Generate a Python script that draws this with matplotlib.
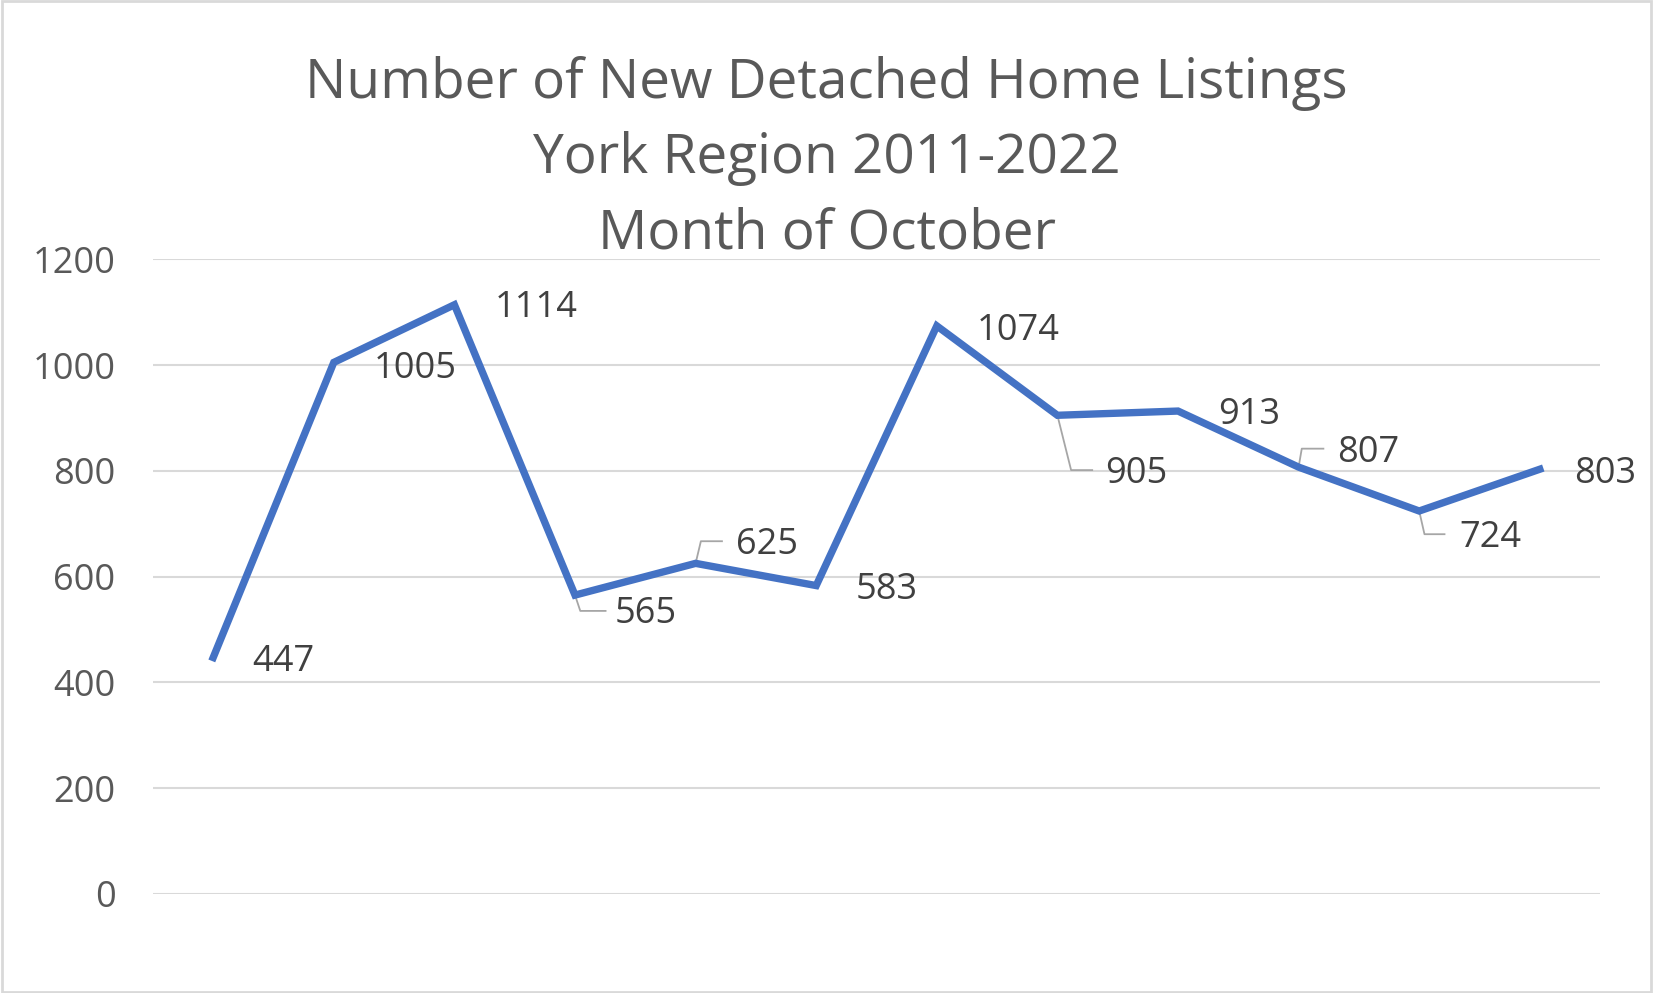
import matplotlib.pyplot as plt
import matplotlib.transforms as mtransforms
from matplotlib.patches import Rectangle

plt.rcParams["font.family"] = ["Open Sans", "DejaVu Sans"]

# October new detached listings, York Region
years = ["2011", "2012", "2013", "2014", "2015", "2016",
         "2017", "2018", "2019", "2020", "2021", "2022"]
listings = [447, 1005, 1114, 565, 625, 583, 1074, 905, 913, 807, 724, 803]

title = "Number of New Detached Home Listings\nYork Region 2011-2022\nMonth of October"
yticks = [0, 200, 400, 600, 800, 1000, 1200]

# label offsets (pixels at reference scale, y up) for left edge / vertical centre
label_dx = [37, 38, 38, 38, 38, 37, 38, 45, 38, 37, 38, 33]
label_dy = [-4, -6, -3, -18, 17, -4, -5, -56, -4, 13, -26, -5]
# leader lines (Excel style): point -> corner -> end
leaders = {
    3: [(0, 0), (5, -15), (29, -15)],
    4: [(0, 0), (5, 21), (25, 21)],
    7: [(0, 0), (13, -52), (33, -52)],
    9: [(0, 0), (3, 17.5), (23.5, 17.5)],
    10: [(0, 0), (5, -22), (24, -22)],
}

W, H = 1653, 993
sc = W / 1568.0
fig = plt.figure(figsize=(W / 100, H / 100), dpi=100)
ax = fig.add_axes([0.0925, 0.0998, 0.968 - 0.0925, 0.7389 - 0.0998])

x = list(range(len(years)))
ax.plot(x, listings, color="#4472C4", lw=5.3, solid_joinstyle="miter", zorder=3)

ax.set_xlim(-0.5, len(years) - 0.5)
ax.set_ylim(0, 1200)
ax.set_yticks(yticks)
ax.set_yticklabels([str(v) for v in yticks], fontsize=26, color="#595959")
ax.tick_params(axis="y", length=0, pad=27)
ax.set_xticks([])
ax.grid(axis="y", color="#d9d9d9", lw=1.5)
ax.set_axisbelow(True)
for s in ax.spines.values():
    s.set_visible(False)

for i, v in enumerate(listings):
    ax.annotate(str(v), (i, v), xytext=(label_dx[i] * sc, label_dy[i] * sc),
                textcoords="offset pixels", ha="left", va="center",
                fontsize=26, color="#404040", zorder=4)
    if i in leaders:
        tr = fig.dpi_scale_trans + mtransforms.ScaledTranslation(i, v, ax.transData)
        pts = leaders[i]
        ax.plot([p[0] * sc / 100 for p in pts], [p[1] * sc / 100 for p in pts],
                transform=tr, color="#a6a6a6", lw=1.3, zorder=2, clip_on=False)

fig.text(0.5, 0.840, title, ha="center", va="center", fontsize=39.5,
         color="#595959", linespacing=1.48)

fig.patches.append(Rectangle((0.001, 0.001), 0.998, 0.998, transform=fig.transFigure,
                             fill=False, edgecolor="#d9d9d9", lw=2))

fig.savefig("out.png", dpi=100)
